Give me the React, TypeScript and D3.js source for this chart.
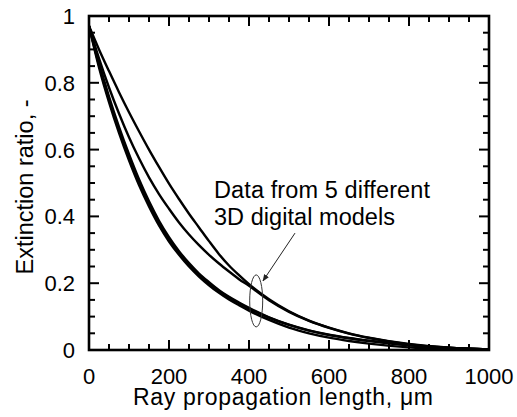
import React from "react";
import * as d3 from "d3";

const xs = [0, 25, 50, 75, 100, 125, 150, 175, 200, 225, 250, 275, 300, 325, 350, 375, 400, 450, 500, 550, 600, 650, 700, 800, 900, 1000];
const curveA = [0.97, 0.9, 0.835, 0.772, 0.712, 0.655, 0.6, 0.548, 0.498, 0.452, 0.408, 0.367, 0.326, 0.287, 0.253, 0.224, 0.197, 0.152, 0.116, 0.088, 0.067, 0.05, 0.037, 0.018, 0.007, 0.002];
const curveB = [0.97, 0.873, 0.786, 0.708, 0.637, 0.574, 0.517, 0.467, 0.423, 0.382, 0.346, 0.314, 0.285, 0.259, 0.235, 0.212, 0.192, 0.149, 0.114, 0.087, 0.066, 0.049, 0.036, 0.017, 0.007, 0.002];
const curveC = [0.97, 0.853, 0.75, 0.658, 0.576, 0.502, 0.437, 0.38, 0.332, 0.291, 0.256, 0.226, 0.2, 0.177, 0.157, 0.14, 0.124, 0.097, 0.075, 0.058, 0.045, 0.035, 0.027, 0.014, 0.006, 0.002];
const curveD = [0.97, 0.846, 0.742, 0.65, 0.568, 0.494, 0.43, 0.373, 0.325, 0.285, 0.25, 0.22, 0.194, 0.171, 0.151, 0.134, 0.118, 0.09, 0.067, 0.05, 0.037, 0.027, 0.019, 0.008, 0.003, 0.001];
const curveE = [0.97, 0.86, 0.759, 0.668, 0.586, 0.511, 0.445, 0.387, 0.338, 0.296, 0.26, 0.229, 0.203, 0.179, 0.159, 0.142, 0.126, 0.098, 0.076, 0.059, 0.046, 0.036, 0.028, 0.015, 0.006, 0.002];
const seriesList = [curveA, curveB, curveC, curveD, curveE];

const xMajorTicks = [0, 200, 400, 600, 800, 1000];
const xMinorTicks = d3.range(0, 1001, 50);
const yMajorTicks = [0, 0.2, 0.4, 0.6, 0.8, 1];
const yMinorTicks = d3.range(0, 1.0001, 0.05);
const yTickLabels = ["0", "0.2", "0.4", "0.6", "0.8", "1"];

const annotationLines = ["Data from 5 different", "3D digital models"];
const annotationWidths = [216, 181];
const xTitle = "Ray propagation length, \u03bcm";
const yTitle = "Extinction ratio, -";

const W = 517;
const H = 417;
const L = 89, R = 489, T = 16, B = 350;
const FONT = "Liberation Sans, Arial, sans-serif";

export default function App() {
  const x = d3.scaleLinear().domain([0, 1000]).range([L, R]);
  const y = d3.scaleLinear().domain([0, 1]).range([B, T]);
  const line = d3
    .line<number>()
    .x((_, i) => x(xs[i]))
    .y((d) => y(d))
    .curve(d3.curveMonotoneX);

  const majLen = 10, minLen = 6;
  const isMajorX = (v: number) => Math.abs(v / 200 - Math.round(v / 200)) < 1e-6;
  const isMajorY = (v: number) => Math.abs(v / 0.2 - Math.round(v / 0.2)) < 1e-6;

  return (
    <svg width={W} height={H} style={{ position: "absolute", left: 0, top: 0, background: "#fff" }} fontFamily={FONT}>
      <defs>
        <clipPath id="plotclip">
          <rect x={L} y={T} width={R - L} height={B - T} />
        </clipPath>
        <marker id="arr" viewBox="0 0 10 10" refX="9" refY="5" markerWidth="7" markerHeight="7" orient="auto">
          <path d="M0,1 L10,5 L0,9 z" fill="#222" />
        </marker>
      </defs>
      <rect width={W} height={H} fill="#fff" />
      <g clipPath="url(#plotclip)">
        {seriesList.map((s, i) => (
          <path key={i} d={line(s) || ""} fill="none" stroke="#000" strokeWidth={2.4} />
        ))}
      </g>
      <g stroke="#000" strokeWidth={2}>
        {xMinorTicks.map((v) => {
          const len = isMajorX(v) ? majLen : minLen;
          return (
            <g key={"x" + v}>
              <line x1={x(v)} x2={x(v)} y1={B} y2={B - len} />
              <line x1={x(v)} x2={x(v)} y1={T} y2={T + len} />
            </g>
          );
        })}
        {yMinorTicks.map((v) => {
          const len = isMajorY(v) ? majLen : minLen;
          return (
            <g key={"y" + v}>
              <line x1={L} x2={L + len} y1={y(v)} y2={y(v)} />
              <line x1={R} x2={R - len} y1={y(v)} y2={y(v)} />
            </g>
          );
        })}
      </g>
      <rect x={L} y={T} width={R - L} height={B - T} fill="none" stroke="#000" strokeWidth={2.6} />
      {xMajorTicks.map((v) => (
        <text key={"xl" + v} x={x(v)} y={384} textAnchor="middle" fontSize={22} fill="#000">
          {v}
        </text>
      ))}
      {yMajorTicks.map((v, i) => (
        <text key={"yl" + v} x={75} y={y(v) + 8} textAnchor="end" fontSize={22} fill="#000">
          {yTickLabels[i]}
        </text>
      ))}
      <text x={133} y={405} fontSize={23} fill="#000" textLength={300} lengthAdjust="spacing">
        {xTitle}
      </text>
      <text transform={`translate(33,187) rotate(-90)`} textAnchor="middle" fontSize={23.5} fill="#000">
        {yTitle}
      </text>
      {annotationLines.map((t, i) => (
        <text key={t} x={214} y={198 + i * 27} fontSize={23.5} fill="#000" textLength={annotationWidths[i]} lengthAdjust="spacing">
          {t}
        </text>
      ))}
      <ellipse cx={x(418)} cy={y(0.147)} rx={6.5} ry={26} fill="none" stroke="#333" strokeWidth={1} />
      <line x1={x(515)} y1={y(0.35)} x2={x(435)} y2={y(0.207)} stroke="#222" strokeWidth={1} markerEnd="url(#arr)" />
    </svg>
  );
}
